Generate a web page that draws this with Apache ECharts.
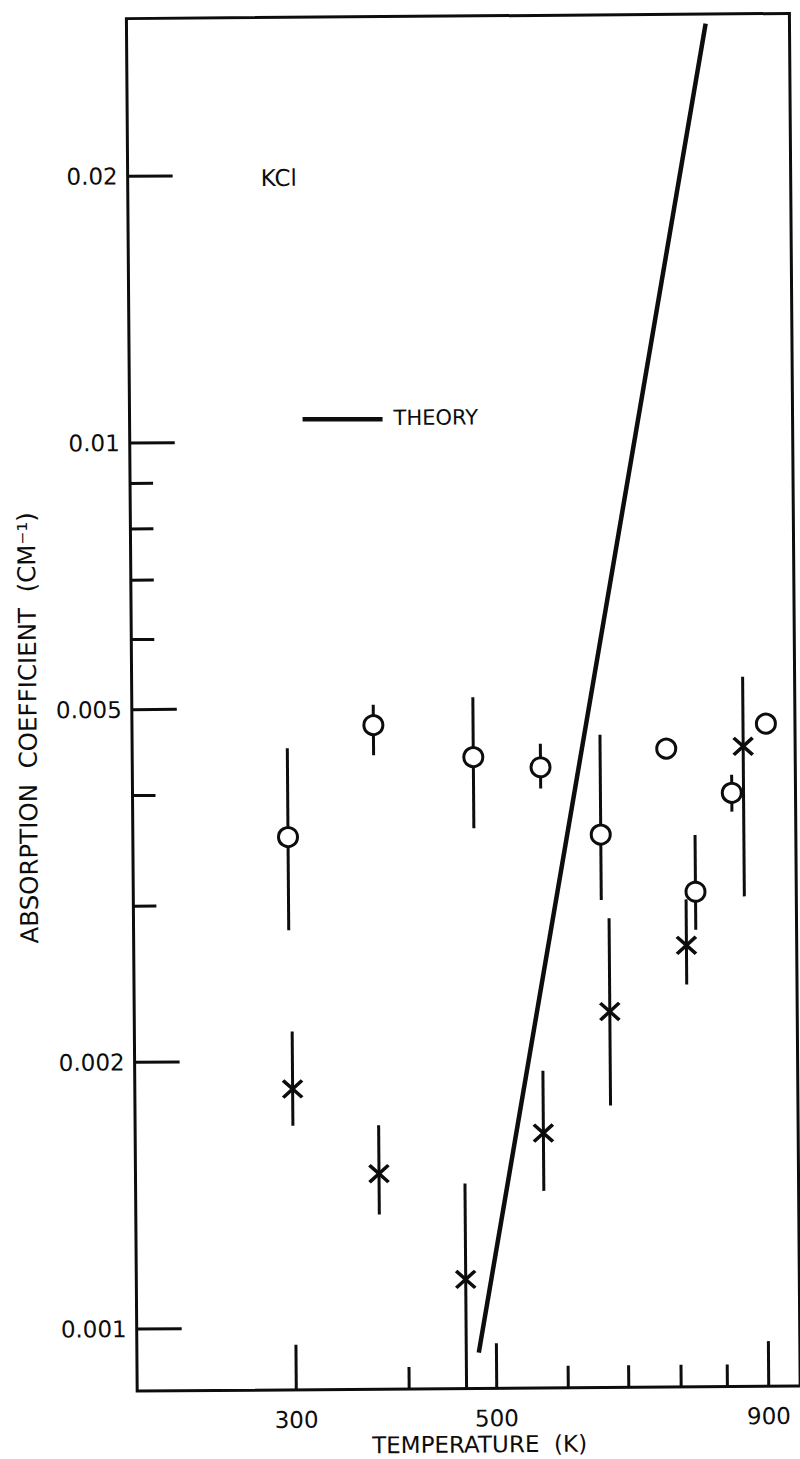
<!DOCTYPE html>
<html><head><meta charset="utf-8">
<script src="https://cdn.jsdelivr.net/npm/echarts@6/dist/echarts.min.js"></script>
<style>
html,body{margin:0;padding:0;background:#fff;overflow:hidden}
#c{width:800px;height:1459px;transform:rotate(-0.45deg);transform-origin:50% 50%;}
</style>
</head><body><div id="c"></div>
<script>
// ---- axis ranges and ticks ----
const xRange = [200, 1083.4];
const yRange = [0.000851, 0.03013];
const xTickValues = [300, 400, 500, 600, 700, 800, 900, 1000];
const xMajorTickValues = [300, 500, 1000];
const xTickLabels = ['300', '500', '900'];
const yTickValues = [0.001, 0.002, 0.003, 0.004, 0.005, 0.006, 0.007, 0.008, 0.009, 0.01, 0.02];
const yMajorTickValues = [0.001, 0.002, 0.005, 0.01, 0.02];
const yTickLabels = ['0.001', '0.002', '0.005', '0.01', '0.02'];

// ---- open circles: temperature (K), absorption coefficient, error low, error high ----
const circleT  = [297, 370, 477, 566, 659, 780, 838, 921, 1006];
const circleV  = [0.00358, 0.00478, 0.00439, 0.00427, 0.00358, 0.00447, 0.00308, 0.00398, 0.00476];
const circleLo = [0.00281, 0.00442, 0.00365, 0.00404, 0.00302, null, 0.00279, 0.00379, null];
const circleHi = [0.00451, 0.00504, 0.00513, 0.00454, 0.00464, null, 0.00357, 0.00417, null];

// ---- crosses ----
const crossT  = [299, 372, 463, 566, 672, 818, 949];
const crossV  = [0.00186, 0.00149, 0.00113, 0.00165, 0.00226, 0.00268, 0.00449];
const crossLo = [0.00169, 0.00134, 0.00080, 0.00142, 0.00177, 0.00242, 0.00304];
const crossHi = [0.00216, 0.00169, 0.00145, 0.00194, 0.00288, 0.00302, 0.00538];

// ---- theory line ----
const theoryT = [478, 875];
const theoryV = [0.000934, 0.0294];

const INK = '#0d0d0d';
const FONT = '"DejaVu Sans", sans-serif';

function zip(a, b) { return a.map((v, i) => [v, b[i]]); }
function errData(T, lo, hi) {
  const out = [];
  T.forEach((t, i) => { if (lo[i] != null && hi[i] != null) out.push([t, lo[i], hi[i]]); });
  return out;
}
function errRender(params, api) {
  const cs = params.coordSys;
  const p1 = api.coord([api.value(0), api.value(1)]);
  const p2 = api.coord([api.value(0), api.value(2)]);
  const bottom = cs.y + cs.height, top = cs.y;
  const y1 = Math.min(Math.max(p1[1], top), bottom);
  const y2 = Math.min(Math.max(p2[1], top), bottom);
  return { type: 'line', shape: { x1: p1[0], y1: y1, x2: p2[0], y2: y2 },
           style: { stroke: INK, lineWidth: 3 } };
}

const chart = echarts.init(document.getElementById('c'), null, { renderer: 'svg' });
chart.setOption({
  animation: false,
  backgroundColor: '#fff',
  grid: { left: 132, right: 5, top: 16.5, bottom: 70, show: true, borderColor: INK, borderWidth: 3 },
  xAxis: { type: 'log', logBase: 10, min: xRange[0], max: xRange[1],
           axisLine: { show: false }, axisTick: { show: false }, axisLabel: { show: false }, splitLine: { show: false } },
  yAxis: { type: 'log', logBase: 10, min: yRange[0], max: yRange[1],
           axisLine: { show: false }, axisTick: { show: false }, axisLabel: { show: false }, splitLine: { show: false } },
  graphic: [
    { type: 'text', x: 28, y: 725, rotation: Math.PI / 2,
      style: { text: 'ABSORPTION  COEFFICIENT  (CM\u207B\u00B9)', font: '24.5px ' + FONT, fill: INK, align: 'center', verticalAlign: 'middle' } },
    { type: 'text', x: 474, y: 1445,
      style: { text: 'TEMPERATURE  (K)', font: '23px ' + FONT, fill: INK, align: 'center', verticalAlign: 'middle' } },
    { type: 'text', x: 265, y: 177,
      style: { text: 'KCl', font: '23px ' + FONT, fill: INK, align: 'left', verticalAlign: 'middle' } },
    { type: 'line', shape: { x1: 305, y1: 418.5, x2: 385, y2: 419 }, style: { stroke: INK, lineWidth: 4.5 } },
    { type: 'text', x: 396, y: 418,
      style: { text: 'THEORY', font: '21px ' + FONT, fill: INK, align: 'left', verticalAlign: 'middle' } }
  ],
  series: [
    { // x ticks + labels
      type: 'custom', silent: true, z: 3,
      data: xTickValues.map(v => [v, yRange[0]]),
      encode: { x: 0, y: 1 },
      renderItem: function (params, api) {
        const v = api.value(0);
        const cs = params.coordSys;
        const x = api.coord([v, yRange[0]])[0];
        const base = cs.y + cs.height;
        const idx = xMajorTickValues.indexOf(v);
        const len = idx >= 0 ? 45 : 22;
        const ch = [{ type: 'line', shape: { x1: x, y1: base, x2: x, y2: base - len }, style: { stroke: INK, lineWidth: 3 } }];
        if (idx >= 0) ch.push({ type: 'text', style: { text: xTickLabels[idx], x: x, y: base + 30,
          font: '23px ' + FONT, fill: INK, align: 'center', verticalAlign: 'middle' } });
        return { type: 'group', children: ch };
      }
    },
    { // y ticks + labels
      type: 'custom', silent: true, z: 3,
      data: yTickValues.map(v => [xRange[0], v]),
      encode: { x: 0, y: 1 },
      renderItem: function (params, api) {
        const v = api.value(1);
        const cs = params.coordSys;
        const y = api.coord([xRange[0], v])[1];
        const base = cs.x;
        const idx = yMajorTickValues.indexOf(v);
        const len = idx >= 0 ? 45 : 23;
        const ch = [{ type: 'line', shape: { x1: base, y1: y, x2: base + len, y2: y }, style: { stroke: INK, lineWidth: 3 } }];
        if (idx >= 0) ch.push({ type: 'text', style: { text: yTickLabels[idx], x: base - 10, y: y,
          font: '23px ' + FONT, fill: INK, align: 'right', verticalAlign: 'middle' } });
        return { type: 'group', children: ch };
      }
    },
    { type: 'line', data: zip(theoryT, theoryV), showSymbol: false, symbol: 'none',
      lineStyle: { color: INK, width: 4.5 }, z: 2 },
    { type: 'custom', clip: true, data: errData(circleT, circleLo, circleHi), encode: { x: 0, y: [1, 2] },
      renderItem: errRender, z: 2 },
    { type: 'custom', clip: true, data: errData(crossT, crossLo, crossHi), encode: { x: 0, y: [1, 2] },
      renderItem: errRender, z: 2 },
    { type: 'scatter', data: zip(circleT, circleV), symbol: 'circle', symbolSize: 19,
      itemStyle: { color: '#fff', borderColor: INK, borderWidth: 3, opacity: 1 }, z: 4 },
    { type: 'scatter', data: zip(crossT, crossV), symbol: 'path://M0,0L20,18M20,0L0,18', symbolSize: [19, 17],
      itemStyle: { color: 'rgba(0,0,0,0)', borderColor: INK, borderWidth: 3.5, opacity: 1 }, z: 4 }
  ]
});
</script>
</body></html>
